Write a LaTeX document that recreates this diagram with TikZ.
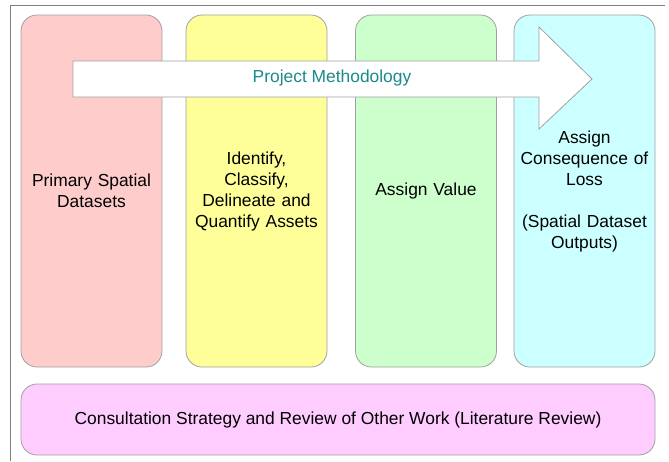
\documentclass[tikz,border=0pt]{standalone}
\usepackage{fontspec}
\setmainfont{Liberation Sans}
\usepackage{tikz}

\definecolor{boxline}{HTML}{A0A0A0}
\definecolor{pinkfill}{HTML}{FFCCCC}
\definecolor{yellowfill}{HTML}{FFFF99}
\definecolor{greenfill}{HTML}{CCFFCC}
\definecolor{cyanfill}{HTML}{CCFFFF}
\definecolor{violetfill}{HTML}{FFCCFF}
\definecolor{tealtext}{HTML}{1A8A8A}

\begin{document}
\begin{tikzpicture}[x=1pt, y=-1pt,
		stage/.style={draw=boxline, line width=0.8pt, rounded corners=16pt, minimum width=141pt, minimum height=352pt, text width=136pt, align=center, inner sep=0pt, font=\fontsize{17.4}{21}\selectfont},
		strip/.style={draw=boxline, line width=0.8pt, rounded corners=16pt, minimum width=634pt, minimum height=71pt, inner sep=0pt, font=\fontsize{17.4}{21}\selectfont}]
			\useasboundingbox (0, 0) rectangle (669, 461);
			\draw[gray, line width=0.8pt] (665, 5) -- (10, 5) -- (10, 461);
			\node[stage, fill=pinkfill] (s1) at (91.5, 191) {Primary Spatial\\Datasets};
			\node[stage, fill=yellowfill] (s2) at (256.5, 191) {Identify,\\Classify,\\Delineate and\\Quantify Assets};
			\node[stage, fill=greenfill] (s3) at (426, 191) {Assign Value};
			\node[stage, fill=cyanfill] (s4) at (584.5, 191) {Assign\\Consequence of\\Loss\\[21pt](Spatial Dataset\\Outputs)};
			\node[strip, fill=violetfill] (lit) at (338, 419.5) {Consultation Strategy and Review of Other Work (Literature Review)};
			% methodology arrow across the stages
			\draw[boxline, fill=white, line width=0.8pt] (73, 61) -- (539, 61) -- (539, 27) -- (592, 79) -- (539, 129) -- (539, 97) -- (73, 97) -- cycle;
			\node[tealtext, font=\fontsize{17.4}{21}\selectfont] (pm) at (332, 78) {Project Methodology};
		\end{tikzpicture}
\end{document}
